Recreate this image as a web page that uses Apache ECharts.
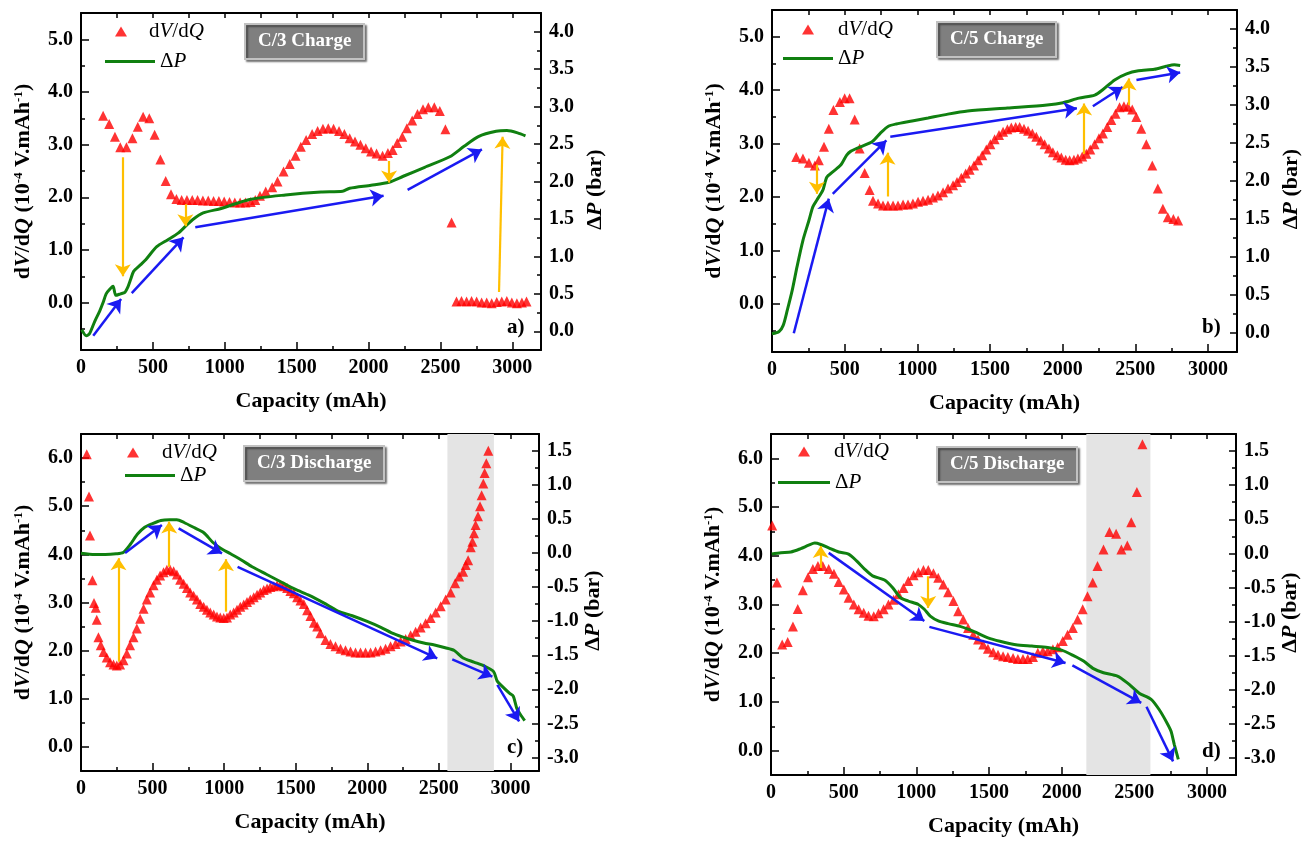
<!DOCTYPE html>
<html>
<head>
<meta charset="utf-8">
<title>dV/dQ and pressure change vs capacity</title>
<script src="https://cdn.jsdelivr.net/npm/echarts@6/dist/echarts.min.js"></script>
<style>
  html, body { margin: 0; padding: 0; background: #fff; }
  #chart { width: 1313px; height: 841px; }
</style>
</head>
<body>
<div id="chart"></div>
<script>
const FONT = '"Liberation Serif", "Times New Roman", serif';

// tick labels
const capTicks = [0, 500, 1000, 1500, 2000, 2500, 3000];
const capMinorTicks = [250, 750, 1250, 1750, 2250, 2750];
const dvdqTicksCharge = [0, 1, 2, 3, 4, 5];
const dvdqMinorCharge = [-0.5, 0.5, 1.5, 2.5, 3.5, 4.5];
const dvdqTicksDischarge = [0, 1, 2, 3, 4, 5, 6];
const dvdqMinorDischarge = [0.5, 1.5, 2.5, 3.5, 4.5, 5.5];
const dpTicksCharge = [0, 0.5, 1, 1.5, 2, 2.5, 3, 3.5, 4];
const dpMinorCharge = [0.25, 0.75, 1.25, 1.75, 2.25, 2.75, 3.25, 3.75];
const dpTicksDischarge = [-3, -2.5, -2, -1.5, -1, -0.5, 0, 0.5, 1, 1.5];
const dpMinorDischarge = [-2.75, -2.25, -1.75, -1.25, -0.75, -0.25, 0.25, 0.75, 1.25];

// a) C/3 charge : [capacity mAh, value]
const dvdqA = [[154,3.55],[196,3.39],[236,3.15],[273,2.95],[316,2.95],[358,3.12],[395,3.34],[432,3.53],[475,3.50],[512,3.19],[552,2.72],[589,2.31],[626,2.06],[664,1.97],[700,1.95],[737,1.95],[774,1.95],[811,1.95],[848,1.94],[885,1.94],[922,1.93],[959,1.93],[996,1.92],[1033,1.91],[1070,1.90],[1107,1.90],[1144,1.90],[1181,1.91],[1212,1.95],[1245,2.03],[1285,2.11],[1330,2.19],[1367,2.30],[1409,2.49],[1452,2.63],[1492,2.79],[1529,2.96],[1566,3.09],[1608,3.20],[1646,3.26],[1683,3.30],[1720,3.31],[1757,3.30],[1795,3.26],[1832,3.20],[1869,3.12],[1906,3.06],[1944,3.00],[1981,2.93],[2018,2.87],[2056,2.83],[2098,2.79],[2135,2.84],[2168,2.90],[2200,3.03],[2235,3.15],[2267,3.31],[2304,3.46],[2341,3.58],[2379,3.67],[2416,3.71],[2458,3.71],[2496,3.64],[2535,3.29],[2578,1.52],[2612,0.02],[2647,0.03],[2682,0.02],[2717,0.03],[2752,0.02],[2787,0.00],[2822,0.00],[2857,-0.01],[2892,0.01],[2927,0.02],[2962,0.03],[2997,0.00],[3032,-0.01],[3067,0.00],[3099,0.02]];
const dpA = [[5,0.02],[37,-0.06],[60,-0.03],[95,0.13],[130,0.27],[153,0.38],[175,0.50],[200,0.56],[223,0.60],[242,0.48],[275,0.50],[305,0.52],[328,0.60],[345,0.69],[366,0.80],[415,0.89],[452,0.96],[527,1.13],[602,1.22],[676,1.31],[726,1.40],[776,1.49],[850,1.58],[975,1.64],[1173,1.76],[1422,1.82],[1670,1.86],[1820,1.87],[1869,1.91],[2018,1.95],[2143,1.99],[2242,2.07],[2391,2.19],[2565,2.33],[2665,2.47],[2764,2.60],[2888,2.67],[2963,2.68],[3037,2.65],[3092,2.61]];
// arrows: [x1, y1, x2, y2] on the dV/dQ axis
const blueA = [[85,-0.63,279,0.07],[353,0.18,713,1.24],[795,1.43,2105,2.03],[2272,2.14,2789,2.91]];
const orangeA = [[291,2.76,291,0.50],[726,1.87,726,1.45],[2143,2.69,2143,2.28],[2908,0.20,2933,3.15]];

// b) C/5 charge
const dvdqB = [[167,2.75],[213,2.72],[254,2.64],[295,2.59],[322,2.69],[358,2.94],[391,3.28],[423,3.63],[467,3.78],[500,3.85],[534,3.85],[569,3.45],[603,2.91],[638,2.45],[672,2.13],[695,1.93],[730,1.88],[764,1.84],[798,1.84],[833,1.84],[867,1.84],[902,1.86],[936,1.86],[970,1.88],[1005,1.91],[1039,1.93],[1074,1.95],[1108,1.99],[1142,2.03],[1177,2.09],[1211,2.16],[1246,2.22],[1273,2.28],[1303,2.36],[1333,2.44],[1360,2.51],[1390,2.59],[1418,2.69],[1447,2.78],[1475,2.89],[1503,2.99],[1532,3.08],[1562,3.16],[1590,3.22],[1620,3.27],[1647,3.30],[1677,3.31],[1704,3.31],[1734,3.28],[1762,3.24],[1792,3.19],[1819,3.13],[1849,3.06],[1876,2.99],[1906,2.91],[1933,2.84],[1964,2.78],[1991,2.74],[2021,2.70],[2048,2.69],[2078,2.70],[2105,2.72],[2135,2.76],[2163,2.81],[2190,2.89],[2220,2.99],[2250,3.10],[2277,3.19],[2307,3.31],[2335,3.44],[2364,3.56],[2392,3.68],[2422,3.70],[2449,3.69],[2479,3.64],[2507,3.50],[2541,3.28],[2576,2.99],[2617,2.59],[2655,2.16],[2690,1.78],[2724,1.62],[2762,1.59],[2795,1.56]];
const dpB = [[0,-0.01],[49,0.02],[77,0.10],[104,0.29],[139,0.56],[172,0.87],[213,1.22],[254,1.48],[281,1.66],[309,1.75],[350,1.88],[377,2.05],[418,2.12],[473,2.21],[514,2.34],[541,2.39],[609,2.45],[691,2.52],[746,2.63],[801,2.72],[855,2.75],[964,2.79],[1074,2.83],[1210,2.88],[1347,2.92],[1620,2.96],[1893,3.00],[2003,3.03],[2112,3.09],[2221,3.13],[2276,3.20],[2358,3.33],[2440,3.41],[2522,3.45],[2631,3.47],[2713,3.51],[2768,3.53],[2809,3.52]];
const blueB = [[150,-0.55,391,1.97],[418,2.06,787,3.06],[814,3.13,2098,3.66],[2208,3.70,2413,4.06],[2508,4.19,2809,4.33]];
const orangeB = [[309,2.61,309,2.06],[795,2.01,795,2.83],[2148,2.81,2148,3.75],[2454,3.72,2454,4.22]];

// c) C/3 discharge
const dvdqC = [[40,6.08],[56,5.20],[63,4.39],[80,3.46],[91,2.99],[103,2.89],[110,2.64],[122,2.28],[138,2.11],[157,1.97],[180,1.86],[203,1.76],[227,1.71],[250,1.69],[273,1.71],[297,1.80],[320,1.94],[343,2.11],[367,2.28],[390,2.46],[413,2.66],[437,2.87],[460,3.06],[483,3.21],[507,3.36],[530,3.47],[553,3.56],[577,3.63],[600,3.68],[623,3.68],[647,3.65],[670,3.58],[693,3.47],[717,3.39],[740,3.30],[763,3.21],[787,3.14],[810,3.06],[833,2.97],[857,2.91],[880,2.85],[903,2.79],[927,2.75],[950,2.71],[973,2.69],[997,2.68],[1020,2.69],[1043,2.75],[1067,2.79],[1090,2.85],[1113,2.91],[1137,2.96],[1160,3.01],[1183,3.06],[1207,3.11],[1230,3.16],[1253,3.21],[1277,3.26],[1300,3.29],[1323,3.32],[1347,3.34],[1370,3.36],[1393,3.36],[1417,3.34],[1440,3.30],[1463,3.24],[1487,3.19],[1510,3.11],[1533,3.04],[1557,2.97],[1580,2.84],[1603,2.72],[1627,2.58],[1650,2.50],[1673,2.36],[1708,2.22],[1743,2.14],[1778,2.09],[1813,2.04],[1848,2.01],[1883,1.98],[1918,1.96],[1953,1.96],[1988,1.96],[2023,1.96],[2058,1.98],[2093,2.01],[2128,2.04],[2163,2.09],[2198,2.14],[2233,2.19],[2268,2.24],[2303,2.32],[2338,2.39],[2373,2.48],[2408,2.57],[2443,2.68],[2478,2.79],[2513,2.92],[2548,3.06],[2583,3.21],[2614,3.40],[2642,3.54],[2670,3.64],[2688,3.78],[2705,3.88],[2723,4.15],[2735,4.26],[2746,4.44],[2757,4.61],[2774,4.79],[2788,5.00],[2799,5.23],[2811,5.47],[2820,5.69],[2832,5.89],[2846,6.15],[2862,6.60]];
const dpC = [[0,0.00],[95,-0.02],[170,-0.02],[245,-0.01],[295,0.01],[345,0.13],[395,0.28],[445,0.38],[495,0.43],[558,0.48],[620,0.49],[670,0.49],[720,0.45],[795,0.37],[858,0.30],[920,0.16],[970,0.08],[1045,-0.01],[1120,-0.10],[1195,-0.20],[1295,-0.31],[1395,-0.42],[1495,-0.53],[1595,-0.62],[1695,-0.73],[1795,-0.85],[1895,-0.92],[1995,-1.00],[2095,-1.09],[2170,-1.17],[2245,-1.23],[2320,-1.28],[2395,-1.32],[2470,-1.35],[2545,-1.39],[2608,-1.43],[2670,-1.54],[2745,-1.60],[2820,-1.66],[2883,-1.74],[2908,-1.88],[2945,-1.96],[2995,-2.06],[3020,-2.10],[3045,-2.28],[3070,-2.37],[3100,-2.46]];
const blueC = [[308,4.03,565,4.61],[682,4.54,985,4.02],[1094,3.74,2489,1.84],[2594,1.82,2874,1.46],[2909,1.29,3061,0.53]];
const orangeC = [[262,1.77,262,3.92],[616,3.74,616,4.68],[1013,2.81,1013,3.90]];
const shadeC = [2560, 2885];

// d) C/5 discharge
const dvdqD = [[8,4.62],[41,3.45],[77,2.18],[115,2.23],[151,2.55],[184,2.91],[219,3.29],[255,3.56],[288,3.73],[323,3.79],[356,3.79],[397,3.73],[433,3.63],[466,3.46],[501,3.31],[534,3.14],[570,3.00],[603,2.90],[638,2.83],[671,2.77],[707,2.76],[740,2.82],[775,2.90],[808,3.00],[844,3.10],[877,3.21],[912,3.34],[945,3.48],[981,3.60],[1014,3.66],[1049,3.71],[1082,3.71],[1118,3.64],[1151,3.55],[1186,3.41],[1219,3.25],[1255,3.07],[1288,2.86],[1323,2.69],[1356,2.52],[1392,2.38],[1425,2.28],[1460,2.18],[1493,2.09],[1529,2.02],[1562,1.97],[1597,1.94],[1630,1.92],[1666,1.90],[1699,1.88],[1734,1.88],[1767,1.88],[1803,1.92],[1836,2.01],[1871,2.04],[1904,2.04],[1940,2.08],[1973,2.12],[2008,2.25],[2041,2.38],[2077,2.52],[2110,2.69],[2145,2.90],[2178,3.17],[2214,3.45],[2247,3.79],[2288,4.13],[2329,4.49],[2375,4.45],[2411,4.13],[2452,4.21],[2479,4.69],[2518,5.31],[2556,6.29]];
const dpD = [[5,-0.01],[68,0.01],[137,0.02],[205,0.07],[260,0.12],[301,0.15],[342,0.13],[397,0.08],[466,0.02],[534,-0.01],[589,-0.11],[644,-0.23],[699,-0.33],[781,-0.39],[836,-0.50],[890,-0.65],[945,-0.70],[1014,-0.75],[1055,-0.82],[1096,-0.92],[1151,-0.99],[1219,-1.03],[1301,-1.07],[1356,-1.11],[1411,-1.16],[1493,-1.24],[1575,-1.29],[1685,-1.34],[1795,-1.36],[1904,-1.38],[2000,-1.42],[2082,-1.50],[2151,-1.58],[2219,-1.69],[2288,-1.75],[2384,-1.80],[2452,-1.90],[2534,-2.05],[2616,-2.14],[2671,-2.29],[2726,-2.49],[2753,-2.61],[2775,-2.80],[2803,-3.02]];
const blueD = [[397,4.06,1055,2.66],[1090,2.54,2027,1.80],[2074,1.75,2548,0.98],[2584,0.90,2767,-0.22]];
const orangeD = [[342,3.75,342,4.20],[1082,3.58,1082,2.93]];
const shadeD = [2170, 2611];

const panels = [
  { grid: { left: 81, top: 13, width: 460, height: 337 }, xMax: 3200,
    yRange: [-0.9, 5.5], yTicks: dvdqTicksCharge, yMinor: dvdqMinorCharge,
    rRange: [-0.25, 4.25], rTicks: dpTicksCharge, rMinor: dpMinorCharge,
    dvdq: dvdqA, dp: dpA, blue: blueA, orange: orangeA, shade: null,
    title: 'C/3 Charge', box: [245, 24], tag: 'a)', tagPos: [507, 317],
    legTri: [115, 21, 17], legLine: [105, 51, 50] },
  { grid: { left: 772, top: 10, width: 465, height: 342 }, xMax: 3200,
    yRange: [-0.9, 5.5], yTicks: dvdqTicksCharge, yMinor: dvdqMinorCharge,
    rRange: [-0.25, 4.25], rTicks: dpTicksCharge, rMinor: dpMinorCharge,
    dvdq: dvdqB, dp: dpB, blue: blueB, orange: orangeB, shade: null,
    title: 'C/5 Charge', box: [937, 22], tag: 'b)', tagPos: [1202, 317],
    legTri: [802, 19, 19], legLine: [783, 48, 50] },
  { grid: { left: 81, top: 434, width: 458, height: 337 }, xMax: 3200,
    yRange: [-0.5, 6.5], yTicks: dvdqTicksDischarge, yMinor: dvdqMinorDischarge,
    rRange: [-3.2, 1.75], rTicks: dpTicksDischarge, rMinor: dpMinorDischarge,
    dvdq: dvdqC, dp: dpC, blue: blueC, orange: orangeC, shade: shadeC,
    title: 'C/3 Discharge', box: [244, 446], tag: 'c)', tagPos: [507, 737],
    legTri: [127, 442, 18], legLine: [125, 465, 50] },
  { grid: { left: 771, top: 434, width: 465, height: 341 }, xMax: 3200,
    yRange: [-0.5, 6.5], yTicks: dvdqTicksDischarge, yMinor: dvdqMinorDischarge,
    rRange: [-3.25, 1.75], rTicks: dpTicksDischarge, rMinor: dpMinorDischarge,
    dvdq: dvdqD, dp: dpD, blue: blueD, orange: orangeD, shade: shadeD,
    title: 'C/5 Discharge', box: [937, 447], tag: 'd)', tagPos: [1202, 741],
    legTri: [798, 441, 19], legLine: [778, 472, 52] }
];

const AXIS_LINE = { show: true, onZero: false, lineStyle: { color: '#000', width: 2 } };
const NO_LINE = { show: false, onZero: false };
const TICK_STYLE = { color: '#000', width: 1.5 };
const LABEL = { fontFamily: FONT, fontSize: 20, fontWeight: 'bold', color: '#000', margin: 8 };
const NAME_STYLE = {
  fontFamily: FONT, fontSize: 22, fontWeight: 'bold', color: '#000',
  rich: {
    b: { fontFamily: FONT, fontSize: 22, fontWeight: 'bold', color: '#000' },
    bi: { fontFamily: FONT, fontSize: 22, fontWeight: 'bold', fontStyle: 'italic', color: '#000' },
    s: { fontFamily: FONT, fontSize: 13, fontWeight: 'bold', color: '#000', verticalAlign: 'top' }
  }
};

function ticks(values, len) {
  return { show: true, inside: true, length: len, customValues: values, lineStyle: TICK_STYLE };
}

function arrowLines(list, color, width, size) {
  return list.map(a => [
    { coord: [a[0], a[1]], lineStyle: { color: color, width: width, type: 'solid' } },
    { coord: [a[2], a[3]], symbolSize: size }
  ]);
}

const xAxis = [], yAxis = [], series = [], legend = [], title = [], graphic = [];

panels.forEach((p, i) => {
  xAxis.push(
    { type: 'value', gridIndex: i, position: 'bottom', min: 0, max: p.xMax,
      axisLine: AXIS_LINE, splitLine: { show: false }, axisTick: ticks(capTicks, 8),
      axisLabel: Object.assign({ customValues: capTicks, formatter: v => String(v) }, LABEL),
      name: 'Capacity (mAh)', nameLocation: 'middle', nameGap: 40, nameTextStyle: NAME_STYLE },
    { type: 'value', gridIndex: i, position: 'bottom', min: 0, max: p.xMax,
      axisLine: NO_LINE, splitLine: { show: false }, axisTick: ticks(capMinorTicks, 4),
      axisLabel: { show: false } },
    { type: 'value', gridIndex: i, position: 'top', min: 0, max: p.xMax,
      axisLine: AXIS_LINE, splitLine: { show: false },
      axisTick: ticks(capTicks.concat(capMinorTicks), 5), axisLabel: { show: false } }
  );
  yAxis.push(
    { type: 'value', gridIndex: i, position: 'left', min: p.yRange[0], max: p.yRange[1],
      axisLine: AXIS_LINE, splitLine: { show: false }, axisTick: ticks(p.yTicks, 8),
      axisLabel: Object.assign({ customValues: p.yTicks, formatter: v => v.toFixed(1) }, LABEL),
      name: '{b|d}{bi|V}{b|/d}{bi|Q}{b| (10}{s|-4}{b| V.mAh}{s|-1}{b|)}',
      nameLocation: 'middle', nameRotate: 90, nameGap: 47, nameTextStyle: NAME_STYLE },
    { type: 'value', gridIndex: i, position: 'left', min: p.yRange[0], max: p.yRange[1],
      axisLine: NO_LINE, splitLine: { show: false }, axisTick: ticks(p.yMinor, 4),
      axisLabel: { show: false } },
    { type: 'value', gridIndex: i, position: 'right', min: p.rRange[0], max: p.rRange[1],
      axisLine: AXIS_LINE, splitLine: { show: false }, axisTick: ticks(p.rTicks, 7),
      axisLabel: Object.assign({ customValues: p.rTicks, formatter: v => v.toFixed(1) }, LABEL),
      name: '{b|Δ}{bi|P}{b| (bar)}',
      nameLocation: 'middle', nameRotate: 90, nameGap: 43,
      nameTextStyle: Object.assign({}, NAME_STYLE, { padding: [0, 16, 0, 0] }) },
    { type: 'value', gridIndex: i, position: 'right', min: p.rRange[0], max: p.rRange[1],
      axisLine: NO_LINE, splitLine: { show: false }, axisTick: ticks(p.rMinor, 4),
      axisLabel: { show: false } }
  );

  series.push(
    { name: 'dV/dQ', type: 'scatter', xAxisIndex: 3 * i, yAxisIndex: 4 * i, data: p.dvdq,
      symbol: 'triangle', symbolSize: 10, itemStyle: { color: '#ff0000' }, z: 2,
      markLine: {
        silent: true, symbol: ['none', 'arrow'], symbolSize: 12, animation: false,
        label: { show: false }, emphasis: { disabled: true },
        data: arrowLines(p.blue, '#1a1af2', 2.5, 13).concat(arrowLines(p.orange, '#ffbf00', 2.2, 12))
      } },
    { name: 'ΔP', type: 'line', xAxisIndex: 3 * i, yAxisIndex: 4 * i + 2, data: p.dp,
      symbol: 'none', showSymbol: false, smooth: 0.25, z: 3,
      lineStyle: { color: '#108010', width: 3 }, itemStyle: { color: '#108010' },
      markArea: p.shade ? {
        silent: true, itemStyle: { color: '#e4e4e4' },
        data: [[{ xAxis: p.shade[0] }, { xAxis: p.shade[1] }]]
      } : undefined }
  );

  const legendBase = {
    orient: 'vertical', padding: 0, selectedMode: false, itemHeight: 10,
    formatter: name => name === 'dV/dQ' ? '{n|d}{i|V}{n|/d}{i|Q}' : '{n|Δ}{i|P}',
    textStyle: {
      fontFamily: FONT, fontSize: 21, color: '#000',
      rich: {
        n: { fontFamily: FONT, fontSize: 21, color: '#000' },
        i: { fontFamily: FONT, fontSize: 21, fontStyle: 'italic', color: '#000' }
      }
    }
  };
  legend.push(
    Object.assign({}, legendBase, {
      data: ['dV/dQ'], left: p.legTri[0], top: p.legTri[1], itemWidth: 12,
      textStyle: Object.assign({}, legendBase.textStyle, { padding: [0, 0, 0, p.legTri[2]] })
    }),
    Object.assign({}, legendBase, {
      data: [{ name: 'ΔP', icon: 'rect' }], left: p.legLine[0], top: p.legLine[1],
      itemWidth: p.legLine[2], itemHeight: 3
    })
  );

  title.push({
    text: p.title, left: p.box[0], top: p.box[1], padding: [8, 13],
    backgroundColor: '#7f7f7f', borderColor: '#c2c2c2', borderWidth: 2,
    shadowColor: 'rgba(0,0,0,0.45)', shadowBlur: 2, shadowOffsetX: 2, shadowOffsetY: 2,
    textStyle: { fontFamily: FONT, fontSize: 19, fontWeight: 'bold', color: '#fff', lineHeight: 19 }
  });

  graphic.push({
    type: 'text', left: p.tagPos[0], top: p.tagPos[1], silent: true,
    style: { text: p.tag, fill: '#000', font: 'bold 21px "Liberation Serif", serif' }
  });
});

const chart = echarts.init(document.getElementById('chart'));
chart.setOption({
  animation: false,
  backgroundColor: '#fff',
  textStyle: { fontFamily: FONT },
  grid: panels.map(p => p.grid),
  xAxis: xAxis,
  yAxis: yAxis,
  legend: legend,
  title: title,
  graphic: graphic,
  series: series
});
</script>
</body>
</html>
